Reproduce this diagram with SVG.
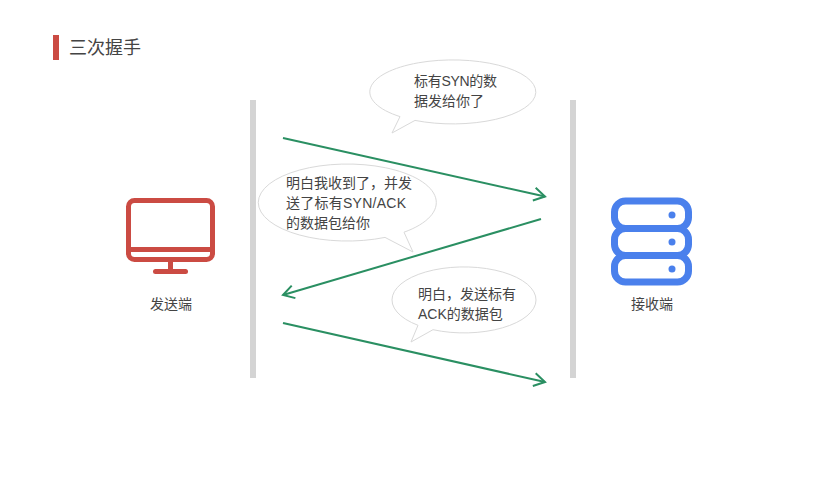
<svg xmlns="http://www.w3.org/2000/svg" width="817" height="489" viewBox="0 0 817 489">
<style>
text{font-family:"Liberation Sans","Noto Sans CJK SC",sans-serif;font-size:14px;fill:#444}
.b{fill:#fff;stroke:#d9d9d9;stroke-width:1}
.c{fill:none;stroke:#2a8f62;stroke-width:2}
.bar{fill:#d4d4d4}
</style>
<defs>
<marker id="a" markerUnits="userSpaceOnUse" markerWidth="20" markerHeight="20" refX="14" refY="10" orient="auto">
<path d="M3 3.500L14 10L3 16.500" fill="none" stroke="#2a8f62" stroke-width="2"/>
</marker>
</defs>
<rect width="817" height="489" fill="#fff"/>
<g id="title">
<rect x="53" y="35" width="6" height="25" fill="#cb4b43"/>
<text x="69" y="54" style="font-size:18px">三次握手</text>
</g>
<rect class="bar" x="250" y="100" width="6" height="278"/>
<rect class="bar" x="570" y="100" width="6" height="278"/>
<g id="bubble1">
<path class="b" d="M415 120.400A83 32 0 1 0 400 116.600L392 133Z"/>
<text x="414" y="86" textLength="83">标有SYN的数</text>
<text x="414" y="106">据发给你了</text>
</g>
<g id="bubble2">
<path class="b" d="M385 237.400A89 38.500 0 1 1 404 232.200L413 252Z"/>
<text x="286" y="188">明白我收到了，并发</text>
<text x="286" y="208" textLength="120">送了标有SYN/ACK</text>
<text x="286" y="228">的数据包给你</text>
</g>
<g id="bubble3">
<path class="b" d="M433 329.700A72 33 0 1 0 418 325.300L411 342Z"/>
<text x="418" y="298.500">明白，发送标有</text>
<text x="418" y="318.500">ACK的数据包</text>
</g>
<g id="connectors">
<path class="c" marker-end="url(#a)" d="M283 138L545 196.500"/>
<path class="c" marker-end="url(#a)" d="M541 219L283 295"/>
<path class="c" marker-end="url(#a)" d="M283 323L545 382"/>
</g>
<g id="sender">
<rect x="128.500" y="200.500" width="84" height="59" rx="6" fill="none" stroke="#cb4b43" stroke-width="5"/>
<path d="M129 249.500H213" stroke="#cb4b43" stroke-width="5"/>
<path d="M170.500 260V271" stroke="#cb4b43" stroke-width="5"/>
<path d="M155.500 271.500H185.500" stroke="#cb4b43" stroke-width="5" stroke-linecap="round"/>
<text x="150" y="309">发送端</text>
</g>
<g id="receiver">
<rect x="614.500" y="201" width="74" height="27.500" rx="11" fill="none" stroke="#4a80ec" stroke-width="7"/>
<rect x="614.500" y="228.500" width="74" height="27" rx="11" fill="none" stroke="#4a80ec" stroke-width="7"/>
<rect x="614.500" y="255.500" width="74" height="26.500" rx="11" fill="none" stroke="#4a80ec" stroke-width="7"/>
<circle cx="672" cy="215" r="3.500" fill="#4a80ec"/>
<circle cx="672" cy="242" r="3.500" fill="#4a80ec"/>
<circle cx="672" cy="269" r="3.500" fill="#4a80ec"/>
<text x="631" y="309">接收端</text>
</g>
</svg>
